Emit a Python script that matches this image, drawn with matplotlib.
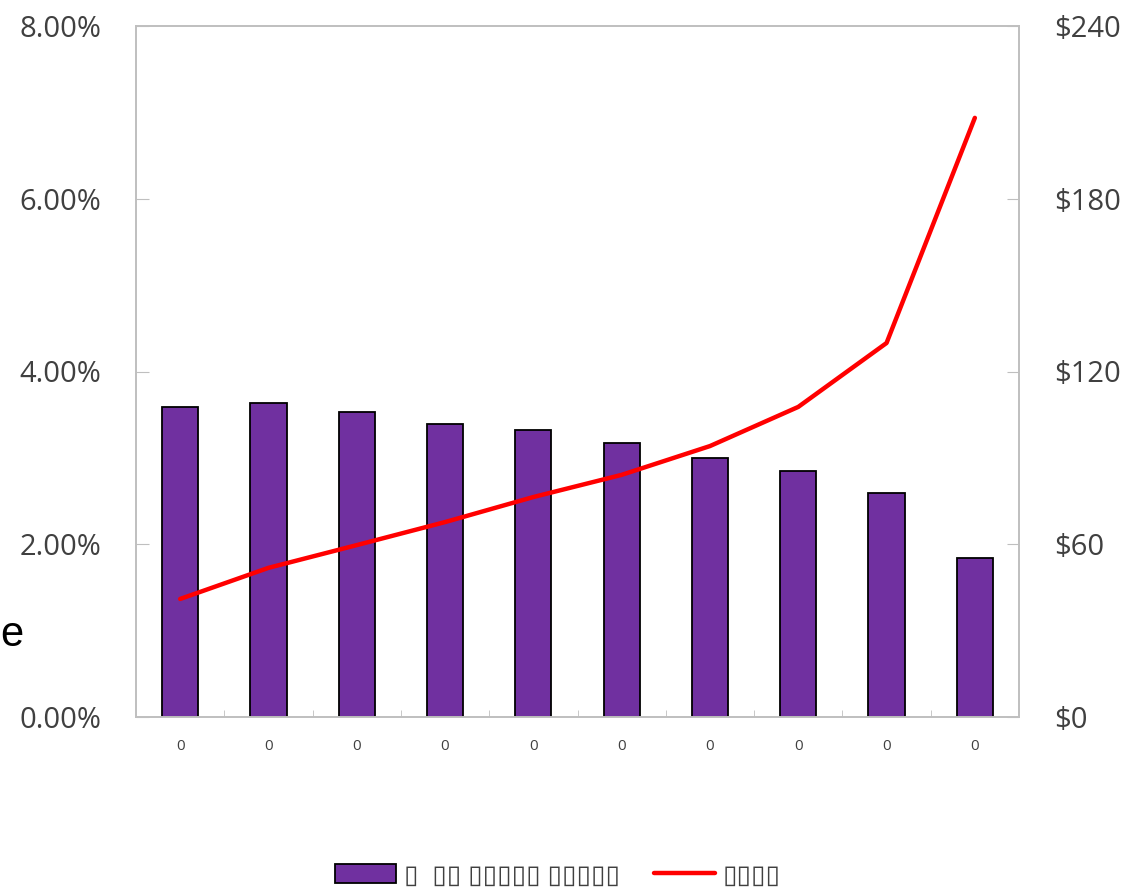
import matplotlib.pyplot as plt
from matplotlib.ticker import FuncFormatter, FixedLocator

# values
categories = ["0", "0", "0", "0", "0", "0", "0", "0", "0", "0"]
bar_values = [3.59, 3.63, 3.53, 3.39, 3.32, 3.17, 3.00, 2.85, 2.59, 1.84]
line_values = [41.0, 51.8, 59.7, 67.7, 76.4, 84.1, 94.1, 107.7, 129.9, 208.1]
bar_label = "\u25af  \u25af\u25af \u25af\u25af\u25af\u25af\u25af \u25af\u25af\u25af\u25af\u25af"
line_label = "\u25af\u25af\u25af\u25af"

plt.rcParams['font.family'] = ['Open Sans', 'DejaVu Sans']
tick_color = '#404040'
spine_color = '#bfbfbf'

fig = plt.figure(figsize=(11.25, 8.91), dpi=100)
ax = fig.add_axes([136 / 1125, 1 - 717 / 891, 883 / 1125, 691 / 891])
ax2 = ax.twinx()

x = list(range(len(categories)))
bars = ax.bar(x, bar_values, width=0.41, color='#7030a0', edgecolor='black',
              linewidth=1.3, zorder=2, label=bar_label)
line, = ax2.plot(x, line_values, color='#ff0000', linewidth=3.2,
                 solid_capstyle='round', zorder=3, label=line_label)

ax.set_xlim(-0.5, len(categories) - 0.5)
ax.set_ylim(0, 8)
ax2.set_ylim(0, 240)
ax.set_yticks([0, 2, 4, 6, 8])
ax2.set_yticks([0, 60, 120, 180, 240])
ax.yaxis.set_major_formatter(FuncFormatter(lambda v, p: f"{v:.2f}%"))
ax2.yaxis.set_major_formatter(FuncFormatter(lambda v, p: f"${v:.0f}"))

# category labels without ticks, tick marks at the category boundaries
ax.set_xticks(x)
ax.set_xticklabels(categories)
ax.tick_params(axis='x', which='major', length=0, pad=16, labelsize=11, labelcolor=tick_color)
ax.xaxis.set_minor_locator(FixedLocator([i + 0.5 for i in range(len(categories) - 1)]))
ax.tick_params(axis='x', which='minor', direction='in', length=5, color=spine_color)

ax.tick_params(axis='y', direction='in', length=9, color=spine_color, labelsize=21,
               labelcolor=tick_color, pad=25)
ax2.tick_params(axis='y', direction='in', length=9, color=spine_color, labelsize=21,
                labelcolor=tick_color, pad=25)

for a in (ax, ax2):
    for s in a.spines.values():
        s.set_color(spine_color)
        s.set_linewidth(1.2)

fig.text(0, 1 - 635 / 891, "e", ha='left', va='center',
         fontsize=30, family='Liberation Sans', color='black')

fig.legend(handles=[bars, line], labels=[bar_label, line_label], loc='center',
           bbox_to_anchor=(558 / 1125, 1 - 876 / 891), ncol=2, frameon=False,
           fontsize=19, handlelength=2.3, columnspacing=1.3, handletextpad=0.3,
           labelcolor=tick_color)

fig.savefig("out.png", dpi=100)
